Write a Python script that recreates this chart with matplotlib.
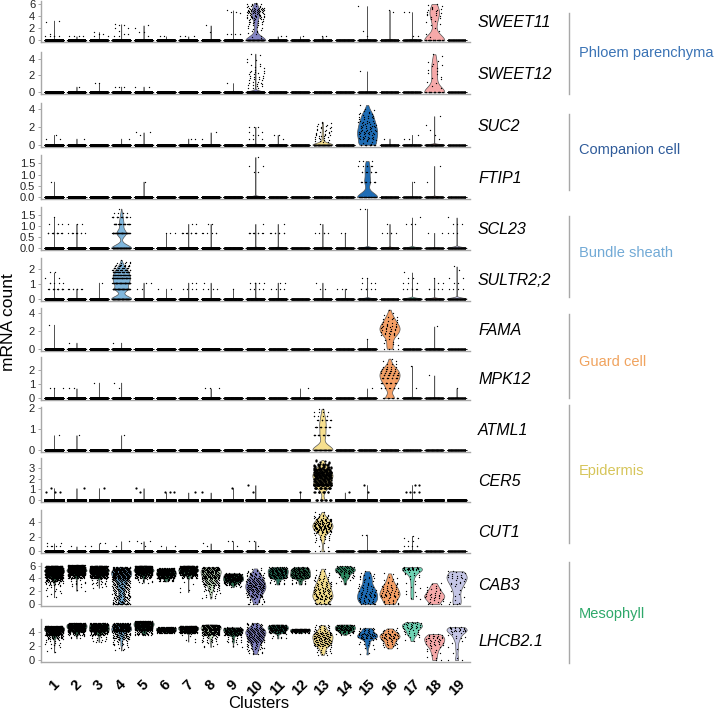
import numpy as np
import matplotlib
matplotlib.use("Agg")
import matplotlib.pyplot as plt
from matplotlib.lines import Line2D

plt.rcParams['font.family'] = ['Liberation Sans', 'DejaVu Sans']

# ---------------- data ----------------
CLUSTERS = [str(i) for i in range(1, 20)]
N_CELLS = [1200, 1000, 950, 900, 850, 800, 750, 700, 600, 500, 450, 420, 400, 380, 350, 330, 300, 280, 260]
CLUSTER_COLORS = ["#35644a", "#2f5e46", "#417a5a", "#7fb6dc", "#2e6a50", "#4a8a68", "#5b9274",
                  "#cfe8c8", "#2c6e4e", "#8484c4", "#25705a", "#2d6a4c", "#f6df8e", "#2d8a62",
                  "#1f6db5", "#f5a066", "#6fd3b4", "#f6a9a9", "#c5c6e6"]

GENES = ["SWEET11", "SWEET12", "SUC2", "FTIP1", "SCL23", "SULTR2;2", "FAMA", "MPK12",
         "ATML1", "CER5", "CUT1", "CAB3", "LHCB2.1"]
GENE_YTICKS = [[0, 2, 4, 6], [0, 2, 4], [0, 2, 4], [0, 0.5, 1.0, 1.5], [0, 0.5, 1.0, 1.5],
               [0, 1, 2], [0, 2, 4], [0, 1, 2], [0, 1, 2], [0, 1, 2, 3], [0, 2, 4],
               [0, 2, 4, 6], [0, 2, 4]]

GROUPS = ["Phloem parenchyma", "Companion cell", "Bundle sheath", "Guard cell", "Epidermis", "Mesophyll"]
GROUP_COLORS = ["#3a73b5", "#2f5b9a", "#72aad6", "#f0a35e", "#d6c55a", "#2ea86a"]

# per cluster: (value, count) discrete levels, (lo, hi, count) binned ranges, (0, n) zero count
SWEET11 = [
    [(0.69, 5), (1.1, 1), (3.0, 1), (3.3, 1)],
    [(0.69, 4)],
    [(0.69, 2), (1.1, 2), (1.39, 1)],
    [(0.69, 2), (1.1, 2), (1.61, 1), (2.0, 2), (2.5, 2), (2.7, 1)],
    [(0.69, 1), (1.39, 2), (2.0, 1), (2.5, 1)],
    [(0.69, 2)],
    [(0.69, 3)],
    [(1.39, 1), (2.5, 1)],
    [(1.1, 4), (4.6, 1), (4.8, 2), (5.0, 1)],
    [(0, 130), (0.4, 1.5, 6), (1.5, 2.5, 8), (2.5, 3.5, 14), (3.5, 4.5, 28), (4.5, 5.5, 38), (5.5, 6.3, 12)],
    [(0.69, 2)],
    [(0.69, 1)],
    [(0.69, 2)],
    [],
    [(0.69, 1), (1.61, 1), (5.7, 1)],
    [(4.8, 1), (5.0, 1)],
    [(0.69, 2), (4.7, 2)],
    [(0, 32), (0.5, 1.5, 2), (1.5, 2.5, 2), (2.5, 3.5, 4), (3.5, 4.5, 7), (4.5, 5.5, 9), (5.5, 6.2, 4)],
    [],
]
SWEET12 = [
    [], [(0.69, 1)], [(1.1, 2)], [(0.69, 3)], [(0.69, 2)], [], [], [], [(1.1, 1)],
    [(0.5, 1.5, 15), (1.5, 2.5, 14), (2.5, 3.5, 8), (3.5, 4.9, 5)],
    [], [], [], [], [(2.5, 1)], [], [],
    [(0, 25), (0.5, 1.5, 4), (1.5, 2.5, 5), (2.5, 3.5, 6), (3.5, 4.8, 4)],
    [],
]
SUC2 = [
    [(0.69, 2), (1.1, 1)], [(0.69, 1)], [], [(0.69, 1)], [(1.1, 1), (1.39, 2)], [],
    [(0.69, 2)], [(0.69, 1), (1.39, 1)], [],
    [(0.69, 3), (1.1, 2), (1.39, 2), (2.0, 3)],
    [(0.69, 1), (1.1, 2)], [],
    [(0, 130), (0.3, 1.0, 14), (1.0, 1.5, 10), (1.5, 2.0, 8), (2.0, 2.6, 8)],
    [],
    [(0, 15), (0.1, 0.6, 6), (0.6, 1.5, 25), (1.5, 2.5, 25), (2.5, 3.5, 18), (3.5, 4.0, 5), (4.0, 4.7, 2)],
    [(0.69, 1)], [(0.69, 2), (1.1, 1)],
    [(0.69, 1), (1.1, 1), (1.7, 1), (2.2, 1), (3.2, 1)],
    [],
]
FTIP1 = [
    [(0.69, 1)], [], [], [], [(0.69, 1)], [], [], [], [],
    [(1.1, 2), (1.39, 2), (1.79, 1)],
    [], [], [], [],
    [(0, 45), (0.69, 12), (1.1, 8), (1.39, 6), (1.61, 3)],
    [], [(0.69, 1)], [(0.69, 1), (1.39, 1)], [],
]
SCL23 = [
    [(0.69, 14), (1.1, 3), (1.39, 1)], [(0.69, 10), (1.1, 3)], [],
    [(0, 150), (0.69, 70), (1.1, 30), (1.39, 18), (1.61, 5), (1.79, 1)],
    [], [(0.69, 3)], [(0.69, 12), (1.1, 2)], [(0.69, 6), (1.1, 2)], [],
    [(0.69, 10), (1.1, 1)], [(0.69, 8), (1.1, 1)], [], [(0.69, 5), (1.1, 1)], [(0.69, 2)],
    [(1.79, 2)], [(0.69, 5), (1.1, 1)], [(1.1, 3), (1.39, 1)], [(0.69, 2)],
    [(0.69, 3), (1.1, 3), (1.39, 1)],
]
SULTR2_2 = [
    [(0.69, 15), (1.1, 5), (1.39, 2), (1.79, 2)], [(0.69, 8)], [(1.1, 1)],
    [(0, 130), (0.69, 80), (1.1, 70), (1.39, 60), (1.61, 45), (1.79, 35), (1.95, 25), (2.08, 15),
     (2.2, 10), (2.3, 6), (2.4, 4), (2.5, 2), (2.64, 1)],
    [(0.69, 2), (1.1, 2)], [(0.69, 2)], [(0.69, 4), (1.1, 2)], [(0.69, 4), (1.1, 1)], [(0.69, 1)],
    [(0.69, 4), (1.1, 5)], [(0.69, 4), (1.1, 2)], [], [(0.69, 2), (1.1, 1)], [(0.69, 3)],
    [(0.69, 5), (1.1, 3), (1.39, 2)], [], [(0.69, 6), (1.1, 3), (1.39, 2), (1.79, 1)],
    [(0.69, 5), (1.1, 2), (1.39, 1)], [(0.69, 4), (1.1, 2), (1.39, 2), (1.95, 1), (2.2, 1)],
]
FAMA = [
    [(2.7, 1)], [(0.69, 1)], [], [(0.69, 1)], [], [], [], [], [], [], [], [], [], [],
    [(1.1, 1)],
    [(0, 4), (0.4, 1.5, 8), (1.5, 2.0, 10), (2.0, 2.5, 12), (2.5, 3.0, 10), (3.0, 3.5, 6), (3.5, 4.0, 3), (4.0, 4.6, 2)],
    [], [(2.5, 1)], [],
]
MPK12 = [
    [(0.69, 3)], [(0.69, 2)], [(1.1, 1)], [(0.69, 1), (1.1, 1)], [], [], [], [(0.69, 3)],
    [], [], [], [(0.69, 1)], [], [], [(0.69, 1)],
    [(0, 15), (0.69, 10), (1.1, 14), (1.39, 14), (1.61, 12), (1.79, 10), (1.95, 8), (2.08, 6),
     (2.2, 4), (2.4, 3), (2.6, 2), (2.8, 1)],
    [(0.69, 1), (2.3, 1)], [(1.61, 1)], [(0.69, 1)],
]
ATML1 = [
    [(0.69, 1)], [(0.69, 1)], [], [(0.69, 1)], [], [], [], [], [], [], [], [],
    [(0, 80), (0.69, 20), (1.1, 18), (1.39, 12), (1.61, 6), (1.79, 4), (1.95, 2)],
    [], [], [], [], [], [],
]
CER5 = [
    [(0.69, 3), (1.1, 1)], [(1.1, 1)], [(1.1, 1)], [], [(0.69, 1), (1.1, 1)], [(0.69, 3)],
    [(0.69, 1)], [(0.69, 1)], [(1.1, 1)], [(0.69, 1), (1.39, 1)], [], [(0.69, 1)],
    [(0, 15), (0.69, 10), (1.1, 20), (1.39, 30), (1.4, 2.0, 60), (2.0, 2.5, 70), (2.5, 3.0, 55),
     (3.0, 3.4, 25), (3.4, 3.8, 8)],
    [(0.69, 1)], [(0.69, 1), (1.39, 1)], [], [(0.69, 4), (1.39, 2)], [], [],
]
CUT1 = [
    [(0.69, 5), (1.1, 2)], [(0.69, 2)], [(0.69, 1), (1.1, 2)], [(0.69, 1), (1.39, 1)],
    [(0.69, 1), (1.1, 1), (1.39, 2)], [(0.69, 2)], [], [(0.69, 1), (1.1, 1)],
    [(0.69, 1), (1.39, 2)], [(0.69, 1), (1.39, 2)], [], [],
    [(0, 5), (0.5, 1.5, 4), (1.5, 2.5, 15), (2.5, 3.0, 25), (3.0, 3.5, 35), (3.5, 4.0, 35),
     (4.0, 4.5, 25), (4.5, 5.0, 12), (5.0, 5.5, 4)],
    [], [(2.3, 2)], [], [(0.69, 5), (1.39, 2), (1.8, 2), (2.1, 1)], [], [],
]
CAB3 = [
    [(0, 0), (5.5, 6.0, 150), (5.0, 5.5, 250), (4.5, 5.0, 200), (4.0, 4.5, 100), (3.5, 4.0, 40), (3.0, 3.5, 15), (2.0, 3.0, 8), (1.0, 2.0, 4)],
    [(0, 0), (5.5, 6.1, 200), (5.0, 5.5, 220), (4.5, 5.0, 120), (4.0, 4.5, 40), (3.0, 4.0, 10), (2.0, 3.0, 4)],
    [(0, 0), (5.5, 6.0, 150), (5.0, 5.5, 220), (4.5, 5.0, 150), (4.0, 4.5, 60), (3.0, 4.0, 15), (2.5, 3.0, 3)],
    [(0, 20), (5.0, 5.8, 120), (4.0, 5.0, 150), (3.0, 4.0, 70), (2.0, 3.0, 50), (1.0, 2.0, 40), (0.05, 1.0, 40)],
    [(0, 0), (5.5, 6.0, 150), (5.0, 5.5, 200), (4.5, 5.0, 100), (4.0, 4.5, 35), (3.3, 4.0, 10)],
    [(0, 0), (5.0, 5.6, 150), (4.5, 5.0, 150), (4.0, 4.5, 80), (3.5, 4.0, 20)],
    [(0, 0), (5.5, 6.0, 120), (5.0, 5.5, 150), (4.5, 5.0, 80), (4.0, 4.5, 25), (1.7, 4.0, 5)],
    [(0, 0), (5.0, 5.8, 80), (4.0, 5.0, 90), (3.0, 4.0, 50), (2.0, 3.0, 25), (0.8, 2.0, 10)],
    [(0, 0), (4.0, 4.8, 120), (3.5, 4.0, 80), (3.0, 3.5, 30), (2.6, 3.0, 5)],
    [(0, 5), (0.2, 1.0, 12), (1.0, 2.0, 35), (2.0, 3.0, 55), (3.0, 4.0, 50), (4.0, 5.0, 30), (5.0, 5.6, 8)],
    [(0, 0), (4.8, 5.8, 80), (4.0, 4.8, 60), (3.0, 4.0, 12)],
    [(0, 0), (4.8, 5.8, 70), (4.0, 4.8, 60), (3.0, 4.0, 12)],
    [(0, 10), (0.1, 0.7, 10), (0.7, 1.5, 30), (1.5, 2.5, 30), (2.5, 3.5, 25), (3.5, 4.5, 15), (4.5, 5.6, 8)],
    [(0, 0), (5.0, 6.0, 45), (4.0, 5.0, 20), (3.0, 4.0, 5)],
    [(0, 5), (0.1, 1.0, 18), (1.0, 2.0, 22), (2.0, 3.0, 16), (3.0, 3.8, 6), (3.8, 4.8, 10), (4.8, 5.3, 3)],
    [(0, 5), (0.1, 1.0, 10), (1.0, 2.0, 22), (2.0, 3.0, 16), (3.0, 4.0, 8), (4.0, 5.0, 4)],
    [(0, 0), (5.3, 5.8, 25), (4.5, 5.3, 8), (3.0, 4.5, 6), (1.5, 3.0, 5), (0.7, 1.5, 3)],
    [(0, 3), (0.1, 0.8, 5), (0.8, 1.5, 12), (1.5, 2.5, 10), (2.5, 3.5, 5)],
    [(0, 3), (0.1, 1.0, 3), (1.0, 2.0, 3), (2.0, 3.0, 4), (3.0, 4.0, 8), (4.0, 5.2, 15)],
]
LHCB2_1 = [
    [(0, 0), (4.0, 4.8, 300), (3.5, 4.0, 100), (3.0, 3.5, 30), (2.0, 3.0, 12), (1.0, 2.0, 4)],
    [(0, 0), (4.5, 5.2, 250), (4.0, 4.5, 150), (3.5, 4.0, 30), (3.0, 3.5, 5)],
    [(0, 0), (4.5, 5.2, 200), (4.0, 4.5, 150), (3.5, 4.0, 40), (2.5, 3.5, 12)],
    [(0, 0), (4.5, 5.2, 150), (4.0, 4.5, 120), (3.0, 4.0, 60), (2.0, 3.0, 20), (1.3, 2.0, 5)],
    [(0, 0), (4.8, 5.5, 200), (4.2, 4.8, 150), (3.5, 4.2, 40)],
    [(0, 0), (4.1, 4.6, 350), (3.8, 4.1, 50)],
    [(0, 0), (4.2, 4.8, 250), (3.8, 4.2, 80), (2.5, 3.8, 6)],
    [(0, 0), (4.2, 5.0, 150), (3.5, 4.2, 80), (2.5, 3.5, 20), (1.8, 2.5, 5)],
    [(0, 0), (4.0, 4.6, 100), (3.5, 4.0, 60), (2.5, 3.5, 15), (1.8, 2.5, 3)],
    [(0, 0), (4.5, 5.3, 25), (3.5, 4.5, 70), (2.5, 3.5, 55), (1.5, 2.5, 25), (0.8, 1.5, 10)],
    [(0, 0), (4.2, 5.0, 120), (3.8, 4.2, 40), (3.0, 3.8, 8)],
    [(0, 0), (4.0, 4.4, 150), (3.8, 4.0, 20)],
    [(0, 0), (4.0, 5.0, 20), (3.0, 4.0, 55), (2.0, 3.0, 50), (1.0, 2.0, 15), (0.7, 1.0, 3)],
    [(0, 0), (4.2, 5.0, 80), (3.8, 4.2, 25), (3.5, 3.8, 5)],
    [(0, 0), (3.8, 4.6, 20), (3.0, 3.8, 35), (2.0, 3.0, 10), (0.7, 2.0, 4)],
    [(0, 0), (3.8, 4.5, 12), (3.0, 3.8, 30), (2.0, 3.0, 18), (1.6, 2.0, 4)],
    [(0, 0), (4.5, 5.4, 25), (3.5, 4.5, 15), (2.6, 3.5, 4)],
    [(0, 2), (3.0, 3.7, 15), (2.0, 3.0, 18), (1.0, 2.0, 8), (0.3, 1.0, 3)],
    [(0, 2), (4.0, 4.7, 20), (3.0, 4.0, 8), (1.5, 3.0, 4), (0.2, 1.5, 2)],
]
GENE_DATA = [SWEET11, SWEET12, SUC2, FTIP1, SCL23, SULTR2_2, FAMA, MPK12, ATML1, CER5, CUT1, CAB3, LHCB2_1]

# ---------------- layout (pixels) ----------------
W, H = 716, 715
AX_LEFT_PX, AX_RIGHT_PX = 40.7, 470
PANEL_TOP_PX = [1, 51.7, 103, 155, 206.7, 258, 307.7, 356.7, 406.7, 458, 510, 563, 619]
PANEL_BOTTOM_PX = [42.3, 94.3, 146.7, 199, 250, 300.7, 350.7, 400, 451.7, 501.7, 553.3, 606, 662]
GENE_LABEL_X_PX = 478
GROUP_LINE_X_PX = 569
GROUP_LABEL_X_PX = 579
GROUP_LINE_SPAN_PX = [(13, 94), (114, 190), (216, 297), (314, 398), (405, 543), (562, 663)]
GROUP_LABEL_Y_PX = [53, 150, 253, 362, 471, 614]

EDGE = "#555555"
AXIS_GRAY = "#a8a8a8"
R2_A, R2_B = 0.7548776662466927, 0.5698402909980532


def expand(entry, n_cells, counter):
    ys, xs = [], []
    zeros = None
    nz = 0
    for t in entry:
        if len(t) == 2 and t[0] == 0:
            zeros = t[1]
            continue
        if len(t) == 2:
            v, n = t
            ys.append(np.full(n, float(v)))
        else:
            lo, hi, n = t
            k = np.arange(1, n + 1)
            ys.append(lo + (hi - lo) * ((0.5 + k * R2_B) % 1.0))
        g = counter + np.arange(n)
        xs.append(((0.5 + g * R2_A) % 1.0) - 0.5)
        counter += n
        nz += n
    if zeros is None:
        zeros = max(n_cells - nz, 0)
    g = counter + np.arange(zeros)
    ys.append(np.zeros(zeros))
    xs.append(((0.5 + g * R2_A) % 1.0) - 0.5)
    counter += zeros
    return np.concatenate(ys), np.concatenate(xs) * 0.8, counter


def bw_nrd0(x):
    n = len(x)
    sd = np.std(x, ddof=1) if n > 1 else 0.0
    q75, q25 = np.percentile(x, [75, 25])
    lo = min(sd, (q75 - q25) / 1.34)
    if lo <= 0:
        lo = sd if sd > 0 else (abs(x[0]) if x[0] != 0 else 1.0)
    return 0.9 * lo * n ** -0.2


def violin(ax, c, y, color):
    lo, hi = y.min(), y.max()
    if hi - lo < 1e-9:
        ax.plot([c - 0.45, c + 0.45], [lo, lo], color=EDGE, lw=0.6, zorder=2)
        return
    bw = bw_nrd0(y)
    grid = np.linspace(lo, hi, 400)
    vals, cnt = np.unique(y, return_counts=True)
    d = (cnt[None, :] * np.exp(-0.5 * ((grid[:, None] - vals[None, :]) / bw) ** 2)).sum(1)
    hw = 0.45 * d / d.max()
    ax.fill_betweenx(grid, c - hw, c + hw, facecolor=color, edgecolor=EDGE, linewidth=0.5, zorder=2)


fig = plt.figure(figsize=(W / 100, H / 100), dpi=100)
positions = np.arange(1, len(CLUSTERS) + 1)

for gi, gene in enumerate(GENES):
    top, bot = PANEL_TOP_PX[gi], PANEL_BOTTOM_PX[gi]
    ax = fig.add_axes([AX_LEFT_PX / W, 1 - bot / H, (AX_RIGHT_PX - AX_LEFT_PX) / W, (bot - top) / H])
    data = GENE_DATA[gi]
    pt = 2.5 if gene == "CER5" else 0.9
    counter = 7 * gi
    ymax = 0.0
    for ci, c in enumerate(positions):
        y, xo, counter = expand(data[ci], N_CELLS[ci], counter)
        ymax = max(ymax, y.max())
        violin(ax, c, y, CLUSTER_COLORS[ci])
        ax.scatter(c + xo, y, s=pt, c="black", linewidths=0, zorder=3)
    ax.set_xlim(0.4, len(CLUSTERS) + 0.6)
    ax.set_ylim(-0.05 * ymax, 1.05 * ymax)
    ticks = GENE_YTICKS[gi]
    ax.set_yticks(ticks)
    if any(t != int(t) for t in ticks):
        ax.set_yticklabels([f"{t:.1f}" for t in ticks])
    else:
        ax.set_yticklabels([f"{int(t)}" for t in ticks])
    for s in ("top", "right"):
        ax.spines[s].set_visible(False)
    for s in ("left", "bottom"):
        ax.spines[s].set_color(AXIS_GRAY)
        ax.spines[s].set_linewidth(1.0)
    ax.tick_params(axis="y", length=2.5, width=0.7, color=AXIS_GRAY, labelsize=8,
                   labelcolor="#222222", pad=1.5)
    if gi == len(GENES) - 1:
        ax.set_xticks(positions)
        ax.set_xticklabels(CLUSTERS, rotation=45, fontsize=10.5, fontweight="bold", ha="center")
        ax.tick_params(axis="x", length=0, pad=11)
    else:
        ax.set_xticks([])
    fig.text(GENE_LABEL_X_PX / W, 1 - (bot - 0.47 * (bot - top)) / H, gene, style="italic",
             fontsize=11.5, ha="left", va="center")

fig.text(8.5 / W, 1 - 322 / H, "mRNA count", rotation=90, fontsize=12.5, ha="center", va="center")
fig.text(259 / W, 1 - 704 / H, "Clusters", fontsize=12, ha="center", va="center")

for gi, name in enumerate(GROUPS):
    y0, y1 = GROUP_LINE_SPAN_PX[gi]
    fig.add_artist(Line2D([GROUP_LINE_X_PX / W] * 2, [1 - y0 / H, 1 - y1 / H],
                          transform=fig.transFigure, color="#a8a8a8", lw=1.0))
    fig.text(GROUP_LABEL_X_PX / W, 1 - GROUP_LABEL_Y_PX[gi] / H, name, color=GROUP_COLORS[gi],
             fontsize=10.5, ha="left", va="center")

fig.savefig("out.png", dpi=100)
